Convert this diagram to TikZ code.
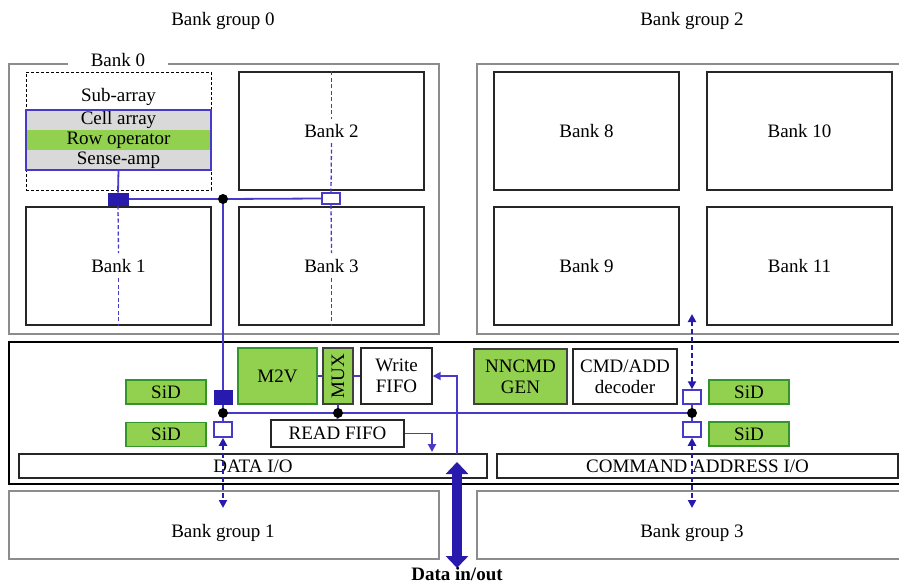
\documentclass[tikz,border=0pt]{standalone}
\usepackage{fontspec}
\setmainfont{Liberation Serif}
\usetikzlibrary{arrows.meta}
\definecolor{wire}{RGB}{72,58,200}
\definecolor{ink}{RGB}{40,26,172}
\definecolor{leaf}{RGB}{146,208,80}
\definecolor{leafline}{RGB}{52,150,40}
\definecolor{cellgray}{RGB}{217,217,217}
\definecolor{grpgray}{RGB}{140,140,140}
\tikzset{
  grp/.style={draw=grpgray, line width=2pt, rectangle},
  bank/.style={draw=black!85, line width=1.4pt, rectangle},
  plain/.style={draw=black!85, line width=1.4pt, rectangle, fill=white},
  greenbox/.style={draw=leafline, line width=1.4pt, rectangle, fill=leaf},
  darkgreen/.style={draw=black!75, line width=1.4pt, rectangle, fill=leaf},
  wireline/.style={draw=wire, line width=1.8pt},
  probe/.style={draw=wire, line width=1.3pt, dash pattern=on 4pt off 2.5pt},
  tipA/.tip={Triangle[width=8pt,length=8pt]},
  link/.style={draw=ink, line width=2pt, dash pattern=on 5pt off 3pt, arrows={tipA-tipA}, ink},
  fullsq/.style={rectangle, fill=ink, draw=ink, line width=1pt},
  hollowsq/.style={rectangle, fill=white, draw=wire, line width=1.5pt},
  dotj/.style={circle, fill=black, minimum size=10pt},
}
\begin{document}
\begin{tikzpicture}[x=1pt,y=-1pt,
  every node/.style={font=\fontsize{19}{21}\selectfont, inner sep=0pt, align=center}]
\useasboundingbox (0,0) rectangle (899,584);

% ---- titles
\node (t0) at (223,21) {Bank group 0};
\node (t2) at (692,21) {Bank group 2};

% ---- bank groups 0 and 2
\node[grp, minimum width=430pt, minimum height=270pt] (g0) at (224,199) {};
\node[grp, minimum width=428pt, minimum height=270pt] (g2) at (691,199) {};
\node[fill=white, minimum width=100pt, minimum height=14pt] (b0lab) at (118,60) {Bank 0};

% bank 0 with its sub-array
\node[draw=black, line width=1pt, dash pattern=on 3pt off 2pt, rectangle, minimum width=185pt, minimum height=118pt] (b0) at (118.5,131) {};
\node (sub) at (118.5,97) {Sub-array};
\node[rectangle, fill=cellgray, minimum width=185pt, minimum height=20pt] (cell) at (118.5,120) {Cell array};
\node[rectangle, fill=leaf, minimum width=185pt, minimum height=20pt] (rowop) at (118.5,140) {Row operator};
\node[rectangle, fill=cellgray, minimum width=185pt, minimum height=20pt] (sense) at (118.5,160) {Sense-amp};
\draw[wire, line width=1.5pt] (cell.north west) rectangle (sense.south east);

\node[bank, minimum width=185pt, minimum height=118pt] (b1) at (118.5,266) {Bank 1};
\node[bank, minimum width=185pt, minimum height=118pt] (b2) at (331.5,131) {Bank 2};
\node[bank, minimum width=185pt, minimum height=118pt] (b3) at (331.5,266) {Bank 3};
\node[bank, minimum width=185pt, minimum height=118pt] (b8) at (586.5,131) {Bank 8};
\node[bank, minimum width=185pt, minimum height=118pt] (b10) at (799.5,131) {Bank 10};
\node[bank, minimum width=185pt, minimum height=118pt] (b9) at (586.5,266) {Bank 9};
\node[bank, minimum width=185pt, minimum height=118pt] (b11) at (799.5,266) {Bank 11};

% ---- logic die strip
\node[draw=black, line width=2.2pt, rectangle, minimum width=896pt, minimum height=142pt] (logic) at (457,413) {};
\node[plain, minimum width=468pt, minimum height=24pt] (dio) at (253,466) {DATA I/O};
\node[plain, minimum width=401pt, minimum height=24pt] (cio) at (697.5,466) {COMMAND ADDRESS I/O};

\node[greenbox, minimum width=79pt, minimum height=56pt] (m2v) at (277.5,376) {M2V};
\node[darkgreen, minimum width=30pt, minimum height=56pt] (mux) at (338,376) {\rotatebox{90}{MUX}};
\node[plain, minimum width=71pt, minimum height=56pt] (wf) at (396.5,376) {Write\\FIFO};
\node[plain, minimum width=133pt, minimum height=27pt] (rf) at (337.5,433.5) {READ FIFO};
\node[darkgreen, minimum width=93pt, minimum height=55pt] (nn) at (520.5,376.5) {NNCMD\\GEN};
\node[plain, minimum width=104pt, minimum height=55pt] (dec) at (625,376.5) {CMD/ADD\\decoder};

\node[greenbox, minimum width=80pt, minimum height=24pt] (sl1) at (166,392) {SiD};
\node[greenbox, minimum width=80pt, minimum height=24pt] (sl2) at (166,434.5) {SiD};
\node[greenbox, minimum width=80pt, minimum height=24pt] (sr1) at (749,392) {SiD};
\node[greenbox, minimum width=80pt, minimum height=24pt] (sr2) at (749,434) {SiD};

% ---- bank groups 1 and 3
\node[grp, minimum width=430pt, minimum height=68pt] (g1) at (224,525) {};
\node (g1lab) at (223,533) {Bank group 1};
\node[grp, minimum width=428pt, minimum height=68pt] (g3) at (691,525) {};
\node (g3lab) at (692,533) {Bank group 3};

% ---- junction points
\coordinate (j1) at (223,199);
\coordinate (j2) at (223,413);
\coordinate (j3) at (338,413);
\coordinate (j4) at (692,413);

% ---- taps (placed first so the wiring can refer to them)
\node[fullsq, minimum width=20pt, minimum height=12pt] (sqA) at (118,199) {};
\node[hollowsq, minimum width=18pt, minimum height=11pt] (sqB) at (331,198.5) {};
\node[fullsq, minimum width=18pt, minimum height=14pt] (sqC) at (223,397) {};
\node[hollowsq, minimum width=18pt, minimum height=15pt] (sqD) at (223,429.5) {};
\node[hollowsq, minimum width=18pt, minimum height=14pt] (sqE) at (692,397) {};
\node[hollowsq, minimum width=18pt, minimum height=15pt] (sqF) at (692,429.5) {};

% ---- bank bit lines (dashed)
\draw[probe] (sqA.south) -- ([yshift=13pt]b1.center);
\draw[probe] ([yshift=-12pt]b1.center) -- (b1.south);
\draw[probe] (b2.north) -- ([yshift=12pt]b2.center);
\draw[probe] ([yshift=-12pt]b2.center) -- (sqB.north);
\draw[probe] (sqB.south) -- ([yshift=13pt]b3.center);
\draw[probe] ([yshift=-12pt]b3.center) -- (b3.south);

% ---- solid wiring
\draw[wireline] (sense.south) -- (sqA.north);
\draw[wireline] (sqA.east) -- (j1) -- (sqB.west);
\draw[wireline] (j1) -- (sqC.north);
\draw[wireline] (sqC.south) -- (j2) -- (sqD.north);
\draw[wireline] (j2) -- (j3) -- (j4);
\draw[wireline] (mux.south) -- (rf.north);
\draw[wireline] (sqE.south) -- (sqF.north);
\draw[wireline] (m2v.east) -- (mux.west);
\draw[wireline] (mux.east) -- (wf.west);

\coordinate (rfout) at (432,452);
\draw[wireline, -{Triangle[width=8pt,length=8pt]}] (rf.east) -| (rfout);
\coordinate (wfin) at (457,454);
\draw[wireline, -{Triangle[width=8pt,length=8pt]}] (wfin) |- (wf.east);

% redraw taps over the wiring
\node[fullsq, minimum width=20pt, minimum height=12pt] at (sqA) {};
\node[hollowsq, minimum width=18pt, minimum height=11pt] at (sqB) {};
\node[fullsq, minimum width=18pt, minimum height=14pt] at (sqC) {};
\node[hollowsq, minimum width=18pt, minimum height=15pt] at (sqD) {};
\node[hollowsq, minimum width=18pt, minimum height=14pt] at (sqE) {};
\node[hollowsq, minimum width=18pt, minimum height=15pt] at (sqF) {};

\node[dotj] (d1) at (j1) {};
\node[dotj] (d2) at (j2) {};
\node[dotj] (d3) at (j3) {};
\node[dotj] (d4) at (j4) {};

% ---- links to the other bank groups
\coordinate (e1) at (223,508);
\coordinate (e3) at (692,508);
\coordinate (e2) at (692,314);
\draw[link] (sqD.south) -- (e1);
\draw[link] (sqF.south) -- (e3);
\draw[link] (sqE.north) -- (e2);

% ---- external data port
\coordinate (dtop) at (457,462);
\coordinate (dbot) at (457,568);
\draw[ink, line width=10pt, {Triangle[width=22pt,length=12pt]}-{Triangle[width=22pt,length=12pt]}] (dtop) -- (dbot);
\node[anchor=base, font=\fontsize{19}{21}\selectfont\bfseries] (dlab) at (457,580) {Data in/out};
\end{tikzpicture}
\end{document}
